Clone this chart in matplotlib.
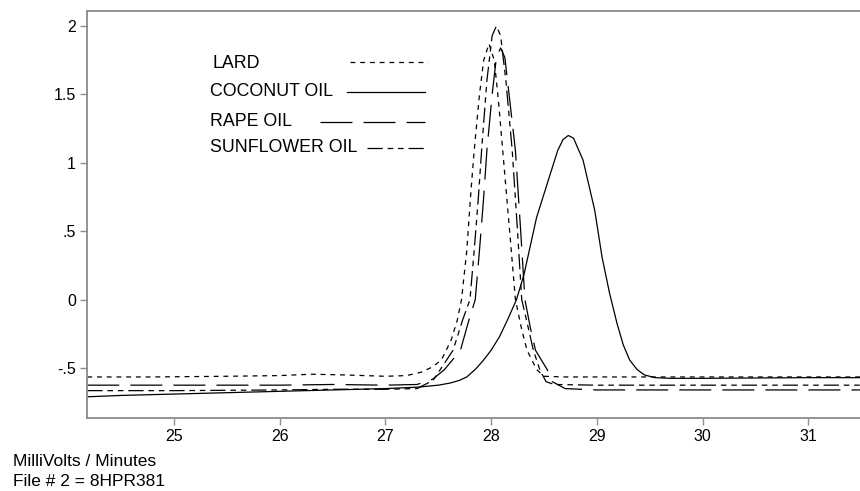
import matplotlib
matplotlib.use("Agg")
import matplotlib.pyplot as plt
from matplotlib.lines import Line2D

plt.rcParams['font.family'] = ['Liberation Sans', 'DejaVu Sans']
plt.rcParams['lines.scale_dashes'] = False

# ---- data ----
lard_x = [24.18, 24.8, 25.5, 26.0, 26.3, 26.6, 27.0, 27.2, 27.34, 27.45, 27.53, 27.62, 27.68,
          27.72, 27.77, 27.81, 27.84, 27.89, 27.93, 27.98, 28.03, 28.07, 28.11, 28.17, 28.23,
          28.29, 28.34, 28.43, 28.5, 28.7, 29.5, 30.5, 31.5]
lard_y = [-0.565, -0.565, -0.56, -0.555, -0.545, -0.55, -0.56, -0.555, -0.53, -0.49, -0.44, -0.30, -0.15,
          0.0, 0.36, 0.8, 1.09, 1.5, 1.75, 1.87, 1.75, 1.45, 1.09, 0.55, 0.0,
          -0.22, -0.37, -0.51, -0.56, -0.565, -0.565, -0.565, -0.565]

coconut_x = [24.18, 24.5, 25.0, 25.5, 26.0, 26.5, 27.0, 27.3, 27.5, 27.61, 27.70, 27.77, 27.85, 27.92,
             28.0, 28.08, 28.16, 28.24, 28.31, 28.37, 28.43, 28.54, 28.63, 28.68, 28.73, 28.78,
             28.87, 28.98, 29.05, 29.12, 29.19, 29.25, 29.31, 29.38, 29.45, 29.55, 29.7, 30.0,
             31.0, 31.5]
coconut_y = [-0.71, -0.70, -0.69, -0.68, -0.67, -0.66, -0.65, -0.64, -0.625, -0.61, -0.59, -0.565, -0.51, -0.45,
             -0.37, -0.27, -0.14, 0.0, 0.18, 0.39, 0.60, 0.87, 1.09, 1.17, 1.20, 1.18,
             1.02, 0.655, 0.31, 0.05, -0.17, -0.33, -0.44, -0.51, -0.55, -0.57, -0.575, -0.575,
             -0.57, -0.57]

rape_x = [24.18, 25.0, 26.0, 26.5, 27.0, 27.3, 27.45, 27.56, 27.71, 27.79, 27.85, 27.89, 27.93,
          27.96, 28.01, 28.05, 28.09, 28.13, 28.17, 28.23, 28.28, 28.32, 28.37, 28.42, 28.53,
          28.58, 28.7, 29.0, 30.0, 31.5]
rape_y = [-0.625, -0.625, -0.625, -0.62, -0.625, -0.62, -0.58, -0.51, -0.37, -0.15, 0.0, 0.36, 0.75,
          1.09, 1.5, 1.77, 1.84, 1.77, 1.5, 1.09, 0.5, 0.0, -0.2, -0.37, -0.51,
          -0.6, -0.65, -0.66, -0.66, -0.66]

sunflower_x = [24.18, 25.0, 26.0, 26.5, 27.0, 27.3, 27.45, 27.52, 27.64, 27.73, 27.80, 27.84, 27.88,
               27.91, 27.96, 28.01, 28.05, 28.09, 28.14, 28.20, 28.25, 28.29, 28.35, 28.40, 28.46,
               28.52, 28.6, 29.0, 30.0, 31.5]
sunflower_y = [-0.665, -0.665, -0.66, -0.655, -0.655, -0.65, -0.59, -0.51, -0.37, -0.15, 0.0, 0.36, 0.75,
               1.09, 1.6, 1.93, 2.0, 1.93, 1.6, 1.09, 0.5, 0.0, -0.2, -0.37, -0.51,
               -0.60, -0.62, -0.625, -0.625, -0.625]

series_names = ["LARD", "COCONUT OIL", "RAPE OIL", "SUNFLOWER OIL"]
x_ticks = [25, 26, 27, 28, 29, 30, 31]
y_ticks = [2, 1.5, 1, 0.5, 0, -0.5]
y_tick_labels = ["2", "1.5", "1", ".5", "0", "-.5"]

# ---- styles ----
styles = [
    dict(ls=(0, (3.5, 3.5))),
    dict(ls='-'),
    dict(ls=(0, (23, 8))),
    dict(ls=(0, (11, 3.5, 4, 3.5, 4, 3.5))),
]

W, H = 860, 491
fig = plt.figure(figsize=(W / 100, H / 100), dpi=100)
ax_l, ax_r, ax_t, ax_b = 87, 860, 11, 418
ax = fig.add_axes([ax_l / W, (H - ax_b) / H, (ax_r - ax_l) / W, (ax_b - ax_t) / H])

data = [(lard_x, lard_y), (coconut_x, coconut_y), (rape_x, rape_y), (sunflower_x, sunflower_y)]
for (xs, ys), st in zip(data, styles):
    ax.plot(xs, ys, color='black', lw=0.9, **st)

ax.set_xlim(24.177, 31.49)
ax.set_ylim(-0.865, 2.11)
ax.set_xticks(x_ticks)
ax.set_xticklabels([str(v) for v in x_ticks])
ax.set_yticks(y_ticks)
ax.set_yticklabels(y_tick_labels)
ax.tick_params(axis='both', direction='out', length=5, width=1, color='#909090',
               labelsize=11.5, labelcolor='black', pad=3)
for side in ['left', 'bottom', 'top']:
    ax.spines[side].set_color('#8a8a8a')
    ax.spines[side].set_linewidth(1.3)
ax.spines['right'].set_visible(False)

# ---- legend drawn as text + sample lines ----
def axfrac(px, py):
    return (px - ax_l) / (ax_r - ax_l), (ax_b - py) / (ax_b - ax_t)

label_pos = [(212, 63), (210, 92), (210, 121), (210, 148)]
line_pos = [(350, 428, 62), (347, 425, 92), (320, 425, 122), (367, 425, 148)]
for name, (tx, ty), (x0, x1, ly), st in zip(series_names, label_pos, line_pos, styles):
    fx, fy = axfrac(tx, ty)
    ax.text(fx, fy, name, transform=ax.transAxes, fontsize=12.8, va='center', ha='left')
    a0, b0 = axfrac(x0, ly)
    a1, _ = axfrac(x1, ly)
    ax.add_line(Line2D([a0, a1], [b0, b0], transform=ax.transAxes, color='black', lw=0.9, **st))

fig.text(13 / W, 1 - 462 / H, "MilliVolts / Minutes", fontsize=12.5, va='center', ha='left')
fig.text(13 / W, 1 - 481 / H, "File # 2 = 8HPR381", fontsize=12.5, va='center', ha='left')

fig.savefig("out.png", dpi=100)
